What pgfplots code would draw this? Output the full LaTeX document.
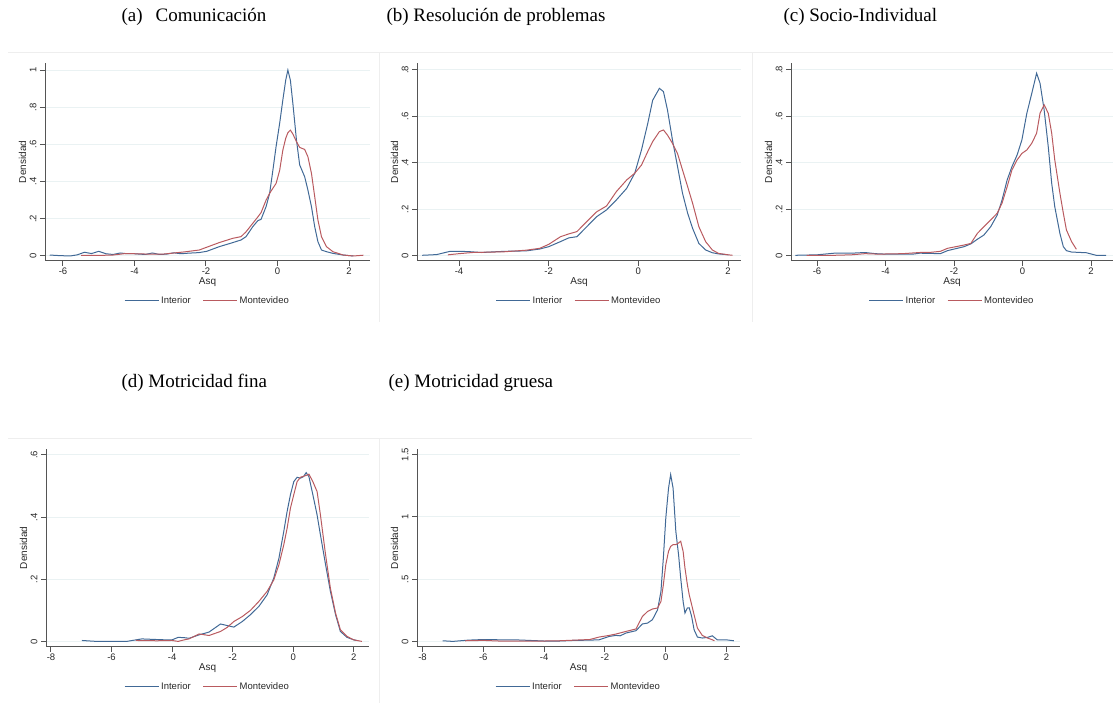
\documentclass[border=0pt]{standalone}
\usepackage{fontspec}
\setmainfont{Liberation Sans}
\newfontfamily\tnr{Liberation Serif}
\usepackage{pgfplots}
\pgfplotsset{compat=1.18}
\definecolor{sblue}{RGB}{65,105,150}
\definecolor{sred}{RGB}{185,90,95}
\definecolor{axgray}{RGB}{85,85,85}
\definecolor{gridc}{RGB}{234,242,243}
\definecolor{txt}{RGB}{40,40,40}
\definecolor{frame}{RGB}{238,238,238}
\pgfplotsset{stata/.style={
  scale only axis,
  axis x line*=bottom, axis y line*=left,
  axis line style={-, draw=axgray, line width=1pt},
  tick align=outside, major tick length=5pt,
  tick style={draw=axgray, line width=1pt},
  ymajorgrids, grid style={draw=gridc, line width=1pt},
  enlargelimits=false, clip=false,
  tick label style={font=\fontsize{9.5}{11}\selectfont, text=txt},
  xticklabel style={yshift=1.5pt},
  yticklabel style={rotate=90, anchor=south},
  xlabel={Asq}, ylabel={Densidad},
  every axis x label/.style={at={(0.5,0)}, yshift=-21.5pt, anchor=center, font=\fontsize{10}{12}\selectfont, text=txt},
  every axis y label/.style={at={(0,0.5)}, xshift=-22.5pt, anchor=center, rotate=90, font=\fontsize{10}{12}\selectfont, text=txt},
  legend style={at={(0.5,0)}, yshift=-40pt, anchor=center, draw=none, fill=none,
     legend columns=2, font=\fontsize{9.5}{11}\selectfont, text=txt,
     /tikz/every even column/.append style={column sep=10pt}},
  legend image code/.code={\draw[#1,line width=1pt] (0pt,0pt) -- (34pt,0pt);},
  every axis plot/.append style={line width=1pt, no markers},
}}
\begin{document}
\begin{tikzpicture}
\useasboundingbox (0,0) rectangle (1113pt,703pt);
% panel frames
\draw[frame, line width=1pt] (8pt,650pt) -- (1113pt,650pt);
\draw[frame, line width=1pt] (379pt,650pt) -- (379pt,381pt);
\draw[frame, line width=1pt] (752pt,650pt) -- (752pt,381pt);
\draw[frame, line width=1pt] (8pt,264pt) -- (752pt,264pt);
\draw[frame, line width=1pt] (379pt,264pt) -- (379pt,0pt);
% titles
\node[anchor=base west, font=\tnr\fontsize{19}{22}\selectfont] at (118pt,681pt) {(a)\hspace{13pt}Comunicación};
\node[anchor=base west, font=\tnr\fontsize{19}{22}\selectfont] at (383pt,681pt) {(b) Resolución de problemas};
\node[anchor=base west, font=\tnr\fontsize{19}{22}\selectfont] at (780pt,681pt) {(c) Socio-Individual};
\node[anchor=base west, font=\tnr\fontsize{19}{22}\selectfont] at (118pt,315pt) {(d) Motricidad fina};
\node[anchor=base west, font=\tnr\fontsize{19}{22}\selectfont] at (385pt,315pt) {(e) Motricidad gruesa};

% (a)
\begin{axis}[stata, at={(45pt,442pt)}, anchor=south west, width=325pt, height=198pt,
  xmin=-6.503, xmax=2.587, ymin=-0.027, ymax=1.038,
  xtick={-6,-4,-2,0,2}, xticklabels={-6,-4,-2,0,2},
  ytick={0,0.2,0.4,0.6,0.8,1}, yticklabels={0,.2,.4,.6,.8,1}]
\addplot[sblue] coordinates {(-6.37,0.005) (-6.1,0.002) (-5.8,0.0) (-5.6,0.006) (-5.4,0.02) (-5.2,0.013) (-5.0,0.025) (-4.8,0.012) (-4.6,0.008) (-4.4,0.016) (-4.2,0.012) (-4.0,0.012) (-3.7,0.008) (-3.5,0.016) (-3.3,0.008) (-3.1,0.01) (-2.9,0.017) (-2.7,0.012) (-2.5,0.015) (-2.2,0.018) (-1.98,0.025) (-1.63,0.05) (-1.25,0.072) (-1.02,0.086) (-0.88,0.104) (-0.69,0.158) (-0.55,0.19) (-0.46,0.197) (-0.32,0.265) (-0.22,0.337) (-0.13,0.46) (-0.04,0.588) (0.06,0.713) (0.15,0.84) (0.23,0.946) (0.29,1.0) (0.36,0.946) (0.43,0.82) (0.53,0.624) (0.62,0.49) (0.76,0.426) (0.85,0.355) (0.95,0.265) (1.04,0.158) (1.13,0.077) (1.23,0.032) (1.37,0.023) (1.55,0.014) (1.84,0.005) (2.12,0.0)};
\addplot[sred] coordinates {(-5.49,0.003) (-5.0,0.003) (-4.6,0.005) (-4.3,0.012) (-4.0,0.012) (-3.6,0.01) (-3.2,0.01) (-3.0,0.014) (-2.6,0.022) (-2.19,0.032) (-1.63,0.072) (-1.25,0.095) (-1.02,0.104) (-0.88,0.13) (-0.69,0.176) (-0.55,0.21) (-0.46,0.233) (-0.32,0.3) (-0.22,0.337) (-0.13,0.364) (-0.04,0.39) (0.06,0.46) (0.15,0.57) (0.23,0.633) (0.29,0.663) (0.36,0.677) (0.43,0.656) (0.53,0.615) (0.62,0.584) (0.76,0.573) (0.85,0.534) (0.95,0.444) (1.04,0.32) (1.13,0.194) (1.23,0.104) (1.37,0.05) (1.55,0.023) (1.84,0.005) (2.12,0.0) (2.4,0.004)};
\legend{Interior,Montevideo}
\end{axis}

% (b)
\begin{axis}[stata, at={(417pt,442pt)}, anchor=south west, width=324pt, height=198pt,
  xmin=-4.937, xmax=2.29, ymin=-0.0215, ymax=0.830,
  xtick={-4,-2,0,2}, xticklabels={-4,-2,0,2},
  ytick={0,0.2,0.4,0.6,0.8}, yticklabels={0,.2,.4,.6,.8}]
\addplot[sblue] coordinates {(-4.82,0.003) (-4.5,0.006) (-4.2,0.02) (-4.0,0.02) (-3.8,0.019) (-3.5,0.015) (-3.0,0.02) (-2.5,0.022) (-2.2,0.03) (-2.0,0.04) (-1.735,0.062) (-1.55,0.078) (-1.37,0.083) (-1.15,0.126) (-0.93,0.169) (-0.71,0.198) (-0.49,0.241) (-0.26,0.291) (-0.08,0.356) (0.07,0.456) (0.21,0.57) (0.32,0.67) (0.47,0.721) (0.56,0.707) (0.65,0.628) (0.76,0.5) (0.875,0.384) (0.985,0.27) (1.1,0.184) (1.21,0.119) (1.35,0.054) (1.5,0.026) (1.65,0.014) (1.79,0.009) (2.01,0.005)};
\addplot[sred] coordinates {(-4.25,0.005) (-4.0,0.01) (-3.7,0.015) (-3.0,0.018) (-2.5,0.025) (-2.2,0.033) (-2.0,0.05) (-1.735,0.083) (-1.55,0.095) (-1.37,0.105) (-1.15,0.148) (-0.93,0.19) (-0.71,0.215) (-0.49,0.277) (-0.26,0.327) (-0.08,0.356) (0.07,0.391) (0.21,0.449) (0.32,0.492) (0.47,0.535) (0.56,0.542) (0.65,0.52) (0.76,0.485) (0.875,0.44) (0.985,0.37) (1.1,0.298) (1.21,0.227) (1.35,0.126) (1.5,0.062) (1.65,0.026) (1.79,0.011) (2.01,0.005) (2.1,0.003)};
\legend{Interior,Montevideo}
\end{axis}

% (c)
\begin{axis}[stata, at={(791pt,442pt)}, anchor=south west, width=322pt, height=198pt,
  xmin=-6.759, xmax=2.64, ymin=-0.0215, ymax=0.830,
  xtick={-6,-4,-2,0,2}, xticklabels={-6,-4,-2,0,2},
  ytick={0,0.2,0.4,0.6,0.8}, yticklabels={0,.2,.4,.6,.8}]
\addplot[sblue] coordinates {(-6.63,0.003) (-6.0,0.005) (-5.5,0.012) (-5.0,0.012) (-4.6,0.015) (-4.3,0.01) (-4.0,0.008) (-3.5,0.008) (-3.2,0.008) (-3.0,0.012) (-2.67,0.011) (-2.4,0.01) (-2.19,0.023) (-1.71,0.04) (-1.51,0.052) (-1.32,0.072) (-1.13,0.09) (-0.93,0.126) (-0.74,0.176) (-0.6,0.24) (-0.45,0.327) (-0.31,0.384) (-0.16,0.434) (-0.02,0.499) (0.125,0.614) (0.27,0.7) (0.41,0.786) (0.51,0.743) (0.63,0.628) (0.75,0.47) (0.85,0.313) (0.94,0.212) (1.09,0.097) (1.19,0.04) (1.28,0.023) (1.43,0.017) (1.57,0.016) (1.86,0.014) (2.15,0.003) (2.44,0.003)};
\addplot[sred] coordinates {(-6.3,0.003) (-5.5,0.003) (-5.0,0.005) (-4.6,0.01) (-4.2,0.008) (-3.5,0.01) (-3.0,0.015) (-2.67,0.016) (-2.4,0.02) (-2.19,0.033) (-1.71,0.047) (-1.51,0.054) (-1.32,0.097) (-1.13,0.126) (-0.93,0.155) (-0.74,0.184) (-0.6,0.227) (-0.45,0.298) (-0.31,0.37) (-0.16,0.413) (-0.02,0.441) (0.125,0.456) (0.27,0.485) (0.41,0.528) (0.51,0.614) (0.63,0.65) (0.75,0.614) (0.85,0.528) (0.94,0.413) (1.09,0.27) (1.19,0.184) (1.28,0.112) (1.43,0.062) (1.57,0.029)};
\legend{Interior,Montevideo}
\end{axis}

% (d)
\begin{axis}[stata, at={(46pt,56pt)}, anchor=south west, width=323pt, height=198pt,
  xmin=-8.165, xmax=2.505, ymin=-0.018, ymax=0.619,
  xtick={-8,-6,-4,-2,0,2}, xticklabels={-8,-6,-4,-2,0,2},
  ytick={0,0.2,0.4,0.6}, yticklabels={0,.2,.4,.6}]
\addplot[sblue] coordinates {(-6.98,0.003) (-6.5,0.0) (-6.0,0.0) (-5.5,0.0) (-5.0,0.008) (-4.5,0.006) (-4.2,0.005) (-4.0,0.005) (-3.8,0.013) (-3.6,0.012) (-3.44,0.01) (-3.11,0.021) (-2.78,0.03) (-2.4,0.056) (-2.18,0.051) (-1.96,0.046) (-1.68,0.064) (-1.41,0.086) (-1.13,0.113) (-0.86,0.15) (-0.64,0.204) (-0.47,0.268) (-0.31,0.354) (-0.2,0.418) (-0.09,0.472) (0.02,0.514) (0.13,0.528) (0.24,0.525) (0.34,0.53) (0.43,0.543) (0.52,0.53) (0.65,0.472) (0.79,0.407) (0.9,0.343) (1.07,0.247) (1.23,0.161) (1.4,0.086) (1.56,0.032) (1.78,0.013) (2.0,0.005) (2.1,0.003)};
\addplot[sred] coordinates {(-5.2,0.003) (-4.5,0.002) (-4.0,0.003) (-3.8,0.0) (-3.6,0.005) (-3.44,0.008) (-3.11,0.024) (-2.78,0.019) (-2.4,0.032) (-2.18,0.045) (-1.96,0.064) (-1.68,0.08) (-1.41,0.1) (-1.13,0.129) (-0.86,0.161) (-0.64,0.198) (-0.47,0.247) (-0.31,0.311) (-0.2,0.364) (-0.09,0.429) (0.02,0.472) (0.13,0.514) (0.24,0.528) (0.43,0.534) (0.52,0.538) (0.65,0.514) (0.79,0.482) (0.9,0.407) (1.07,0.279) (1.23,0.171) (1.4,0.091) (1.56,0.0375) (1.78,0.016) (2.0,0.005) (2.27,0.0)};
\legend{Interior,Montevideo}
\end{axis}

% (e)
\begin{axis}[stata, at={(417pt,56pt)}, anchor=south west, width=323pt, height=198pt,
  xmin=-8.18, xmax=2.44, ymin=-0.045, ymax=1.545,
  xtick={-8,-6,-4,-2,0,2}, xticklabels={-8,-6,-4,-2,0,2},
  ytick={0,0.5,1,1.5}, yticklabels={0,.5,1,1.5}]
\addplot[sblue] coordinates {(-7.34,0.005) (-7.0,0.0) (-6.5,0.01) (-6.0,0.015) (-5.5,0.013) (-5.0,0.013) (-4.5,0.008) (-4.0,0.003) (-3.5,0.003) (-3.0,0.008) (-2.5,0.01) (-2.19,0.013) (-1.86,0.04) (-1.64,0.048) (-1.5,0.045) (-1.31,0.067) (-0.98,0.086) (-0.77,0.14) (-0.6,0.147) (-0.44,0.174) (-0.27,0.254) (-0.16,0.4) (-0.08,0.67) (0.0,0.99) (0.09,1.23) (0.16,1.34) (0.24,1.23) (0.33,0.884) (0.42,0.696) (0.49,0.51) (0.57,0.32) (0.63,0.228) (0.71,0.268) (0.77,0.27) (0.85,0.2) (0.93,0.094) (1.04,0.035) (1.2,0.027) (1.37,0.032) (1.53,0.045) (1.69,0.013) (1.97,0.013) (2.24,0.005)};
\addplot[sred] coordinates {(-6.6,0.005) (-6.0,0.008) (-5.5,0.003) (-4.0,0.003) (-3.5,0.005) (-3.0,0.01) (-2.5,0.015) (-2.19,0.035) (-1.86,0.048) (-1.64,0.059) (-1.31,0.08) (-0.98,0.1) (-0.77,0.2) (-0.6,0.24) (-0.44,0.26) (-0.27,0.268) (-0.16,0.32) (-0.08,0.455) (0.0,0.616) (0.09,0.723) (0.16,0.763) (0.24,0.777) (0.33,0.777) (0.42,0.79) (0.49,0.804) (0.57,0.723) (0.63,0.59) (0.71,0.455) (0.77,0.375) (0.85,0.295) (0.93,0.214) (1.04,0.107) (1.2,0.048) (1.37,0.027) (1.53,0.013) (1.6,0.005)};
\legend{Interior,Montevideo}
\end{axis}
\end{tikzpicture}
\end{document}
